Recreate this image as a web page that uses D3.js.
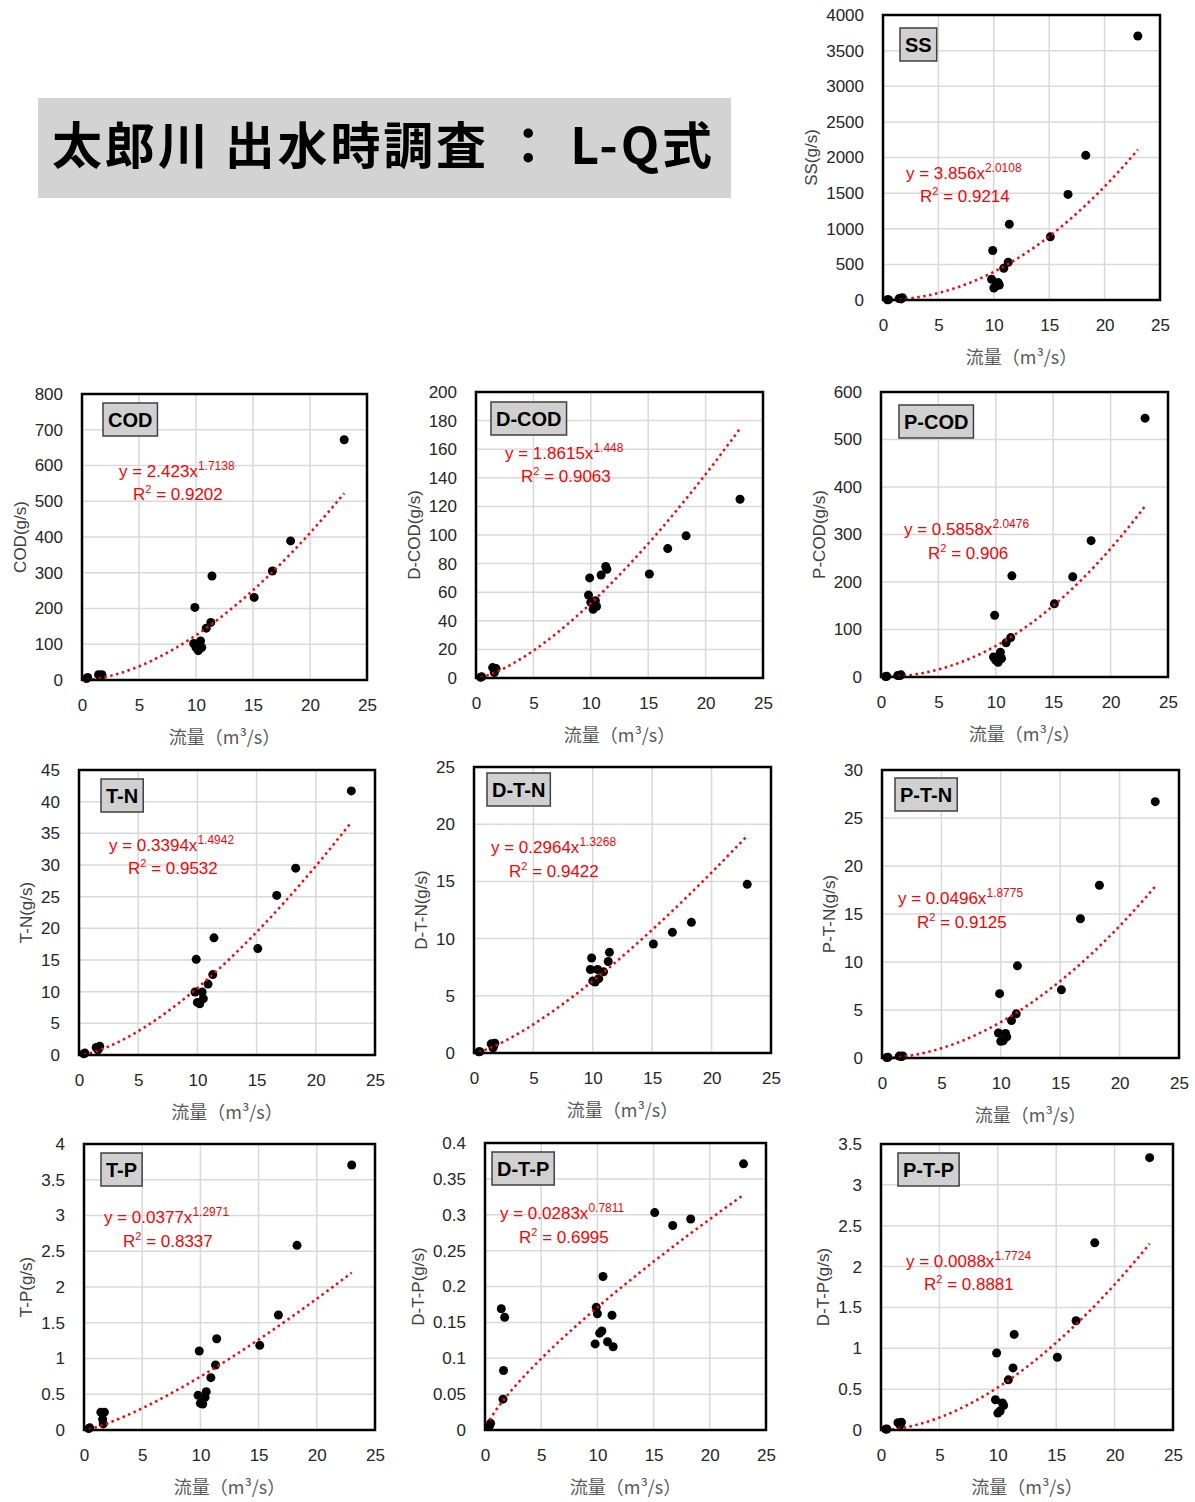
<!DOCTYPE html>
<html>
<head>
<meta charset="utf-8">
<script src="https://cdn.jsdelivr.net/npm/d3@7"></script>
<style>
	body { margin: 0; background: #fff; }
	svg text { font-family: "Liberation Sans", Arial, sans-serif; }
</style>
</head>
<body>
<div id="content"></div>
<script>
/* Data: flow (m3/s) and loads (g/s) per item, same sample order */
var flow = [0.4, 0.5, 1.45, 1.6, 1.65, 1.75, 9.8, 9.9, 10.0, 10.2, 10.4, 10.5, 10.9, 11.3, 11.4, 15.1, 16.7, 18.3, 23.0];
var ss   = [3, 5, 20, 25, 15, 33, 291, 694, 169, 197, 244, 211, 445, 530, 1064, 886, 1482, 2030, 3705];
var cod  = [4, 7, 15, 12, 10, 15, 102, 203, 91, 82, 109, 91, 145, 161, 291, 231, 305, 389, 672];
var dcod = [0.5, 0.8, 7.3, 3.8, 5.5, 6.6, 58, 70, 53, 48, 54, 50, 72, 78, 76, 72.7, 90.5, 99.4, 125];
var pcod = [1, 1.5, 3, 3.5, 3, 4.5, 42, 130, 35, 31, 52, 39, 72, 83, 213, 154, 211, 287, 545];
var tn   = [0.2, 0.3, 1.2, 0.8, 1.0, 1.4, 9.95, 15.1, 8.3, 8.1, 9.95, 8.9, 11.2, 12.7, 18.5, 16.8, 25.2, 29.5, 41.7];
var dtn  = [0.1, 0.12, 0.8, 0.45, 0.6, 0.85, 7.3, 8.3, 6.3, 6.2, 7.3, 6.5, 7.1, 8.0, 8.8, 9.53, 10.55, 11.42, 14.74];
var ptn  = [0.05, 0.08, 0.2, 0.15, 0.18, 0.22, 2.6, 6.7, 1.75, 1.8, 2.55, 2.2, 3.9, 4.6, 9.6, 7.1, 14.5, 18.0, 26.7];
var tp   = [0.02, 0.03, 0.25, 0.15, 0.085, 0.25, 0.485, 1.105, 0.373, 0.364, 0.457, 0.536, 0.732, 0.909, 1.277, 1.184, 1.608, 2.583, 3.706];
var dtp  = [0.0056, 0.0093, 0.169, 0.043, 0.083, 0.157, 0.120, 0.171, 0.162, 0.135, 0.138, 0.214, 0.123, 0.160, 0.116, 0.303, 0.285, 0.294, 0.371];
var ptp  = [0.01, 0.012, 0.09, 0.07, 0.06, 0.095, 0.37, 0.943, 0.207, 0.232, 0.33, 0.3, 0.614, 0.76, 1.17, 0.89, 1.337, 2.29, 3.333];

var names   = ["SS", "COD", "D-COD", "P-COD", "T-N", "D-T-N", "P-T-N", "T-P", "D-T-P", "P-T-P"];
var series  = [ss, cod, dcod, pcod, tn, dtn, ptn, tp, dtp, ptp];
var yTitles = ["SS(g/s)", "COD(g/s)", "D-COD(g/s)", "P-COD(g/s)", "T-N(g/s)", "D-T-N(g/s)", "P-T-N(g/s)", "T-P(g/s)", "D-T-P(g/s)", "D-T-P(g/s)"];
var yMax    = [4000, 800, 200, 600, 45, 25, 30, 4, 0.4, 3.5];
var yStep   = [500, 100, 20, 100, 5, 5, 5, 0.5, 0.05, 0.5];
var xTicks  = [0, 5, 10, 15, 20, 25];
var coefA   = [3.856, 2.423, 1.8615, 0.5858, 0.3394, 0.2964, 0.0496, 0.0377, 0.0283, 0.0088];
var coefB   = [2.0108, 1.7138, 1.448, 2.0476, 1.4942, 1.3268, 1.8775, 1.2971, 0.7811, 1.7724];
var rSq     = ["0.9214", "0.9202", "0.9063", "0.906", "0.9532", "0.9422", "0.9125", "0.8337", "0.6995", "0.8881"];
var title   = "太郎川 出水時調査 ： L-Q式";

/* Layout */
var plotBox = [[883, 15, 1160, 300], [82, 394, 367, 680], [476, 392, 763, 678], [881, 392, 1168, 677],
	[79, 770, 375, 1055], [474, 767, 771, 1053], [882, 770, 1179, 1058],
	[84, 1144, 375, 1430], [485, 1143, 766, 1430], [881, 1144, 1173, 1430]];
var labelOff = [[17, 13], [21, 9], [15, 10], [18, 13], [22, 9], [13, 6], [13, 8], [17, 9], [7, 9], [17, 9]];
var eqPos = [[906, 179, 920, 202], [119, 477, 133, 500], [505, 459, 521, 482], [904, 535, 928, 559],
	[109, 851, 128, 874], [491, 853, 509, 877], [898, 904, 917, 928],
	[104, 1223, 123, 1247], [500, 1219, 519, 1243], [906, 1267, 924, 1290]];

var svg = d3.select("#content").append("svg")
	.attr("width", 1195)
	.attr("height", 1502);

function fmt(v){
	return String(+v.toFixed(4));
}

function draw_title(){
	svg.append("rect")
		.attr("x", 38).attr("y", 98)
		.attr("width", 693).attr("height", 100)
		.attr("fill", "#d3d3d3");
	svg.append("text")
		.attr("x", 52).attr("y", 164)
		.attr("textLength", 660)
		.attr("lengthAdjust", "spacing")
		.style("font-family", "'Noto Sans CJK JP', sans-serif")
		.style("font-weight", 700)
		.style("font-size", "50px")
		.attr("fill", "#000")
		.text(title);
}

function draw_panel(i){
	var r = plotBox[i];
	var x = d3.scaleLinear().domain([0, 25]).range([r[0], r[2]]);
	var y = d3.scaleLinear().domain([0, yMax[i]]).range([r[3], r[1]]);
	var n = Math.round(yMax[i]/yStep[i]);
	var yTicks = d3.range(0, n + 1).map(function(k){ return +(k*yStep[i]).toFixed(4); });
	var g = svg.append("g").attr("class", "panel");

	// grid
	g.selectAll(".gy").data(yTicks).enter().append("line")
		.attr("x1", r[0]).attr("x2", r[2])
		.attr("y1", function(d){ return y(d); })
		.attr("y2", function(d){ return y(d); })
		.attr("stroke", "#d9d9d9").attr("stroke-width", 1.5);
	g.selectAll(".gx").data(xTicks).enter().append("line")
		.attr("y1", r[1]).attr("y2", r[3])
		.attr("x1", function(d){ return x(d); })
		.attr("x2", function(d){ return x(d); })
		.attr("stroke", "#d9d9d9").attr("stroke-width", 1.5);

	// axes
	var ay = g.append("g")
		.attr("transform", "translate(" + r[0] + ",0)")
		.call(d3.axisLeft(y).tickValues(yTicks).tickSize(0).tickPadding(19).tickFormat(fmt));
	var ax = g.append("g")
		.attr("transform", "translate(0," + r[3] + ")")
		.call(d3.axisBottom(x).tickValues(xTicks).tickSize(0).tickPadding(19).tickFormat(fmt));
	g.selectAll(".domain").remove();
	g.selectAll(".tick text")
		.style("font-family", "'Liberation Sans', Arial, sans-serif")
		.style("font-size", "17px")
		.attr("fill", "#262626");

	// axis titles (bbox is local to the translated axis group)
	var bb = ay.node().getBBox();
	g.append("text")
		.attr("transform", "translate(" + (r[0] + bb.x - 15) + "," + ((r[1] + r[3])/2) + ") rotate(-90)")
		.attr("dy", "0.35em")
		.attr("text-anchor", "middle")
		.style("font-size", "17px")
		.attr("fill", "#404040")
		.text(yTitles[i]);
	g.append("text")
		.attr("x", (r[0] + r[2])/2)
		.attr("y", r[3] + 64)
		.attr("text-anchor", "middle")
		.style("font-family", "'Noto Sans CJK JP', sans-serif")
		.style("font-size", "18px")
		.attr("fill", "#595959")
		.text("流量（m³/s）");

	// points
	var ys = series[i];
	g.selectAll(".pt").data(flow).enter().append("circle")
		.attr("cx", function(d){ return x(d); })
		.attr("cy", function(d, k){ return y(ys[k]); })
		.attr("r", 4.5)
		.attr("fill", "#000");

	// power trendline from the fitted equation
	var x0 = d3.min(flow), x1 = d3.max(flow);
	var samp = d3.range(0, 121).map(function(k){ return x0 + (x1 - x0)*k/120; });
	var line = d3.line()
		.x(function(d){ return x(d); })
		.y(function(d){ return y(coefA[i]*Math.pow(d, coefB[i])); });
	g.append("path")
		.attr("d", line(samp))
		.attr("fill", "none")
		.attr("stroke", "#ff0000")
		.attr("stroke-width", 2.5)
		.attr("stroke-dasharray", "2.5,3.5");

	// frame
	g.append("rect")
		.attr("x", r[0]).attr("y", r[1])
		.attr("width", r[2] - r[0]).attr("height", r[3] - r[1])
		.attr("fill", "none")
		.attr("stroke", "#000")
		.attr("stroke-width", 2.5);

	// name label
	var lx = r[0] + labelOff[i][0], ly = r[1] + labelOff[i][1];
	var box = g.append("rect");
	var lt = g.append("text")
		.attr("x", lx + 5).attr("y", ly + 24)
		.style("font-size", "20px")
		.style("font-weight", 700)
		.attr("fill", "#000")
		.text(names[i]);
	var w = lt.node().getComputedTextLength();
	box.attr("x", lx).attr("y", ly)
		.attr("width", w + 10).attr("height", 33)
		.attr("fill", "#d0d0d0")
		.attr("stroke", "#404040")
		.attr("stroke-width", 1.5);

	// equation
	var p = eqPos[i];
	var e1 = g.append("text")
		.attr("x", p[0]).attr("y", p[1])
		.style("font-size", "17px")
		.attr("fill", "#ff0000");
	e1.append("tspan").text("y = " + coefA[i] + "x");
	e1.append("tspan").attr("dy", -7).style("font-size", "12px").text(String(coefB[i]));
	var e2 = g.append("text")
		.attr("x", p[2]).attr("y", p[3])
		.style("font-size", "17px")
		.attr("fill", "#ff0000");
	e2.append("tspan").text("R");
	e2.append("tspan").attr("dy", -7).style("font-size", "11px").text("2");
	e2.append("tspan").attr("dy", 7).text(" = " + rSq[i]);
}

draw_title();
for (var i = 0; i < names.length; i++)
	draw_panel(i);
</script>
</body>
</html>
